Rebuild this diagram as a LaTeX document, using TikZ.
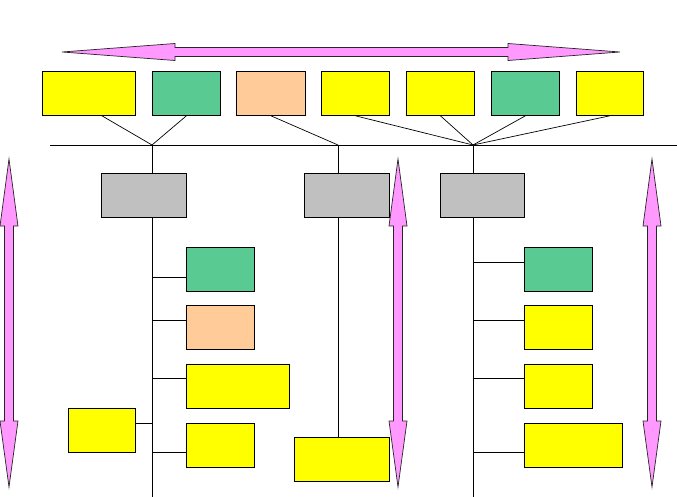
\documentclass[tikz,border=0pt]{standalone}
\usetikzlibrary{positioning,backgrounds}
\definecolor{boxyellow}{HTML}{FFFF00}
\definecolor{boxgreen}{HTML}{5ACA93}
\definecolor{boxpeach}{HTML}{FFCC99}
\definecolor{boxgrey}{HTML}{C0C0C0}
\definecolor{arrowpink}{HTML}{FF99FF}
\begin{document}
\begin{tikzpicture}[
  x=1pt,y=-1pt,line width=0.6pt,
  box/.style={draw,line width=0.8pt,inner sep=0pt,anchor=north west,
    minimum width=68pt,minimum height=44pt},
  wide/.style={minimum width=#1},
  yellowbox/.style={box,fill=boxyellow},
  greenbox/.style={box,fill=boxgreen},
  peachbox/.style={box,fill=boxpeach},
  greybox/.style={box,fill=boxgrey,minimum width=85pt},
  link/.style={line width=0.7pt},
  heavy link/.style={line width=1.4pt},
  bigarrow/.style={fill=arrowpink,draw=black!85,line width=0.7pt}
]
  \useasboundingbox (0,0) rectangle (677,497);

  % two-way arrows
  \draw[bigarrow] (62,52) -- (175,43.5) -- (175,47.5) -- (508,47.5)
    -- (508,43.5) -- (620,52) -- (508,60.5) -- (508,56.5)
    -- (175,56.5) -- (175,60.5) -- cycle;
  \foreach \x in {9,398,652}
    \draw[bigarrow] (\x,159) -- (\x+9,226) -- (\x+4.5,226) -- (\x+4.5,421)
      -- (\x+9,421) -- (\x,487) -- (\x-9,421) -- (\x-4.5,421)
      -- (\x-4.5,226) -- (\x-9,226) -- cycle;

  % top row
  \node[yellowbox,wide=93pt] (t1) at (42,71) {};
  \node[greenbox] (t2) at (152,71) {};
  \node[peachbox,wide=69pt] (t3) at (236,71) {};
  \node[yellowbox] (t4) at (321,71) {};
  \node[yellowbox] (t5) at (406,71) {};
  \node[greenbox] (t6) at (491,71) {};
  \node[yellowbox,wide=67pt] (t7) at (576,71) {};

  \coordinate (busL) at (50,145);
  \coordinate (busR) at (677,145);
  \coordinate (hub1) at (152,145);
  \coordinate (hub2) at (338,145);
  \coordinate (hub3) at (473,145);
  \coordinate (foot1) at (152,497);
  \coordinate (foot3) at (473,497);

  % grey row
  \node[greybox] (g1) at (101,173) {};
  \node[greybox] (g2) at (304,173) {};
  \node[greybox,wide=84pt] (g3) at (440,173) {};

  % left column
  \node[greenbox] (l1) at (186,247) {};
  \node[peachbox] (l2) at (186,305) {};
  \node[yellowbox,wide=103pt] (l3) at (186,364) {};
  \node[yellowbox] (l4) at (186,423) {};
  \node[yellowbox,wide=67pt] (l5) at (68,408) {};

  % middle column
  \node[yellowbox,wide=95pt] (m1) at (294,437) {};

  % right column
  \node[greenbox] (r1) at (524,247) {};
  \node[yellowbox] (r2) at (524,305) {};
  \node[yellowbox] (r3) at (524,364) {};
  \node[yellowbox,wide=98pt] (r4) at (524,423) {};

  \begin{scope}[on background layer]
    \draw[link] (busL) -- (busR);
    \draw[link] ([xshift=13pt]t1.south) -- (hub1);
    \draw[link] (t2.south) -- (hub1);
    \draw[link] (t3.south) -- (hub2);
    \foreach \n in {t4,t5,t6,t7}
      \draw[link] (\n.south) -- (hub3);

    \draw[link] (hub1) -- (foot1);
    \draw[link] (hub2) -- (hub2 |- m1.north);
    \draw[link] (hub3) -- (foot3);

    \draw[link] ([yshift=-8pt]l1.west) -- ([yshift=-8pt]l1.west -| hub1);
    \draw[heavy link] ([yshift=7pt]l2.west) -- ([yshift=7pt]l2.west -| hub1);
    \draw[link] ([yshift=8pt]l3.west) -- ([yshift=8pt]l3.west -| hub1);
    \draw[heavy link] ([yshift=-7pt]l4.west) -- ([yshift=-7pt]l4.west -| hub1);
    \draw[heavy link] ([yshift=7pt]l5.east) -- ([yshift=7pt]l5.east -| hub1);

    \draw[link] ([yshift=7pt]r1.west) -- ([yshift=7pt]r1.west -| hub3);
    \draw[heavy link] ([yshift=7pt]r2.west) -- ([yshift=7pt]r2.west -| hub3);
    \draw[link] ([yshift=8pt]r3.west) -- ([yshift=8pt]r3.west -| hub3);
    \draw[heavy link] ([yshift=-7pt]r4.west) -- ([yshift=-7pt]r4.west -| hub3);
  \end{scope}
\end{tikzpicture}
\end{document}
